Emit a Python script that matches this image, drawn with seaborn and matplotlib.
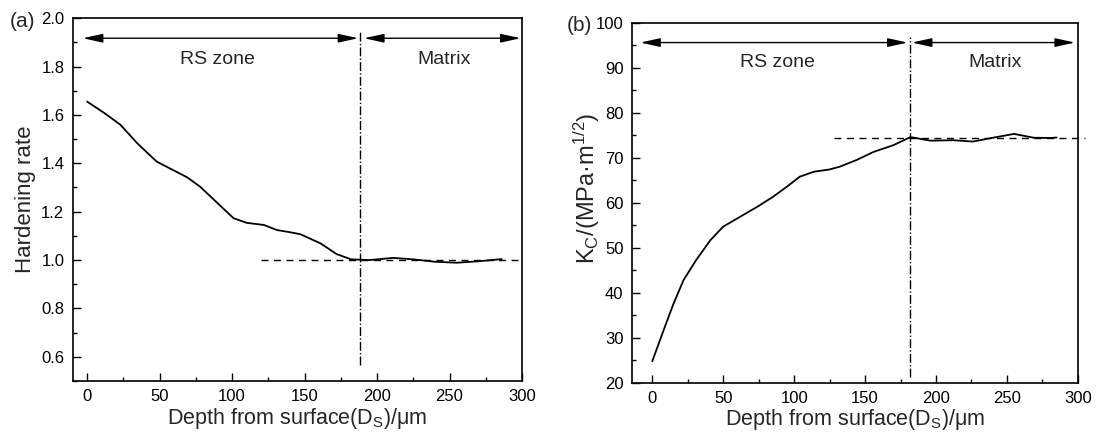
import matplotlib
matplotlib.use("Agg")
import matplotlib.pyplot as plt
from matplotlib.ticker import MultipleLocator, FormatStrFormatter
import seaborn as sns
import numpy as np
import pandas as pd

# ---- data ----
depth_a = [0, 12, 23, 34.5, 48, 57, 69, 78, 90, 101, 110, 122, 131, 140, 147,
           161, 172, 182, 195, 211, 225, 240, 255, 270, 286]
hardening = [1.655, 1.607, 1.559, 1.483, 1.407, 1.379, 1.342, 1.303, 1.235, 1.173,
             1.154, 1.145, 1.124, 1.115, 1.107, 1.069, 1.025, 1.003, 1.0, 1.009,
             1.003, 0.993, 0.989, 0.995, 1.004]

depth_b = [0, 8, 15, 22, 31, 41, 50, 62, 74, 85, 95, 104, 114, 125, 132, 144,
           156, 170, 182, 196, 212, 226, 241, 255, 269, 281, 285]
toughness = [24.8, 31.7, 37.6, 42.8, 47.3, 51.7, 54.7, 56.9, 59.1, 61.3, 63.6,
             65.8, 66.9, 67.4, 68.0, 69.5, 71.3, 72.8, 74.6, 73.8, 73.9, 73.6,
             74.5, 75.3, 74.45, 74.4, 74.5]

boundary_a, boundary_b = 188, 182
matrix_a, matrix_b = 1.0, 74.5
zone_names = ["RS zone", "Matrix"]

df_a = pd.DataFrame({"depth": depth_a, "value": hardening})
df_b = pd.DataFrame({"depth": depth_b, "value": toughness})

sns.set_theme(style="ticks")
plt.rcParams["font.family"] = ["Liberation Sans", "DejaVu Sans"]
plt.rcParams["mathtext.fontset"] = "custom"
plt.rcParams["mathtext.rm"] = "Liberation Sans"
plt.rcParams["mathtext.it"] = "Liberation Sans:italic"
plt.rcParams["axes.linewidth"] = 1.2

fig = plt.figure(figsize=(10.96, 4.32), dpi=100)
ax1 = fig.add_axes([0.0663, 0.118, 0.410, 0.840])
ax2 = fig.add_axes([0.5764, 0.114, 0.4070, 0.8333])

xlabel = "Depth from surface(D$_\\mathrm{S}$)/\u03bcm"
arrow_kw = dict(arrowstyle="<|-|>,head_length=1.0,head_width=0.22", color="black",
                lw=1.0, mutation_scale=12, shrinkA=0, shrinkB=0)


def style_axis(ax, xlim, ylim, ymaj, ymin):
    ax.set_xlim(*xlim)
    ax.set_ylim(*ylim)
    ax.xaxis.set_major_locator(MultipleLocator(50))
    ax.xaxis.set_minor_locator(MultipleLocator(25))
    ax.yaxis.set_major_locator(MultipleLocator(ymaj))
    ax.yaxis.set_minor_locator(MultipleLocator(ymin))
    ax.tick_params(which="both", direction="in", top=False, right=False,
                   labelsize=12, width=1.0, colors="black")
    ax.tick_params(which="major", length=6, pad=6)
    ax.tick_params(which="minor", length=3)
    for s in ax.spines.values():
        s.set_color("black")
    ax.set_xlabel(xlabel, fontsize=15.5)
    ax.xaxis.set_label_coords(0.5, -0.102)
    ax.xaxis.label.set_va("center")


# ---- (a) hardening rate ----
sns.lineplot(data=df_a, x="depth", y="value", ax=ax1, color="black", lw=1.3)
ax1.plot([120, 297], [matrix_a, matrix_a], ls=(0, (5, 4)), color="black", lw=1.0)
ax1.plot([boundary_a, boundary_a], [0.566, 1.943], ls="-.", color="black", lw=1.0)
ax1.annotate("", xy=(187, 1.917), xytext=(-3, 1.917), arrowprops=arrow_kw)
ax1.annotate("", xy=(299, 1.917), xytext=(191, 1.917), arrowprops=arrow_kw)
ax1.text(89.6, 1.827, zone_names[0], ha="center", va="center", fontsize=14)
ax1.text(246, 1.827, zone_names[1], ha="center", va="center", fontsize=14)
style_axis(ax1, (-10, 300), (0.5, 2.0), 0.2, 0.1)
ax1.set_yticks([0.6, 0.8, 1.0, 1.2, 1.4, 1.6, 1.8, 2.0])
ax1.yaxis.set_major_formatter(FormatStrFormatter("%.1f"))
ax1.set_ylim(0.5, 2.0)
ax1.set_ylabel("Hardening rate", fontsize=16)
ax1.yaxis.set_label_coords(-0.106, 0.5)
ax1.yaxis.label.set_va("center")
fig.text(0.009, 0.950, "(a)", fontsize=15, va="center")

# ---- (b) fracture toughness ----
sns.lineplot(data=df_b, x="depth", y="value", ax=ax2, color="black", lw=1.3)
ax2.plot([128, 305], [matrix_b, matrix_b], ls=(0, (5, 4)), color="black", lw=1.0,
         clip_on=False)
ax2.plot([boundary_b, boundary_b], [21.3, 96.9], ls="-.", color="black", lw=1.0)
ax2.annotate("", xy=(180, 95.6), xytext=(-8.5, 95.6), arrowprops=arrow_kw)
ax2.annotate("", xy=(298, 95.6), xytext=(183, 95.6), arrowprops=arrow_kw)
ax2.text(88, 91.1, zone_names[0], ha="center", va="center", fontsize=14)
ax2.text(242, 91.1, zone_names[1], ha="center", va="center", fontsize=14)
style_axis(ax2, (-14.5, 300), (20, 100), 10, 5)
ax2.set_ylabel("K$_\\mathrm{C}$/(MPa\u00b7m$^{\\mathrm{1/2}}$)", fontsize=17)
ax2.yaxis.set_label_coords(-0.100, 0.54)
ax2.yaxis.label.set_va("center")
fig.text(0.517, 0.942, "(b)", fontsize=15, va="center")

fig.savefig("out.png", dpi=100)
